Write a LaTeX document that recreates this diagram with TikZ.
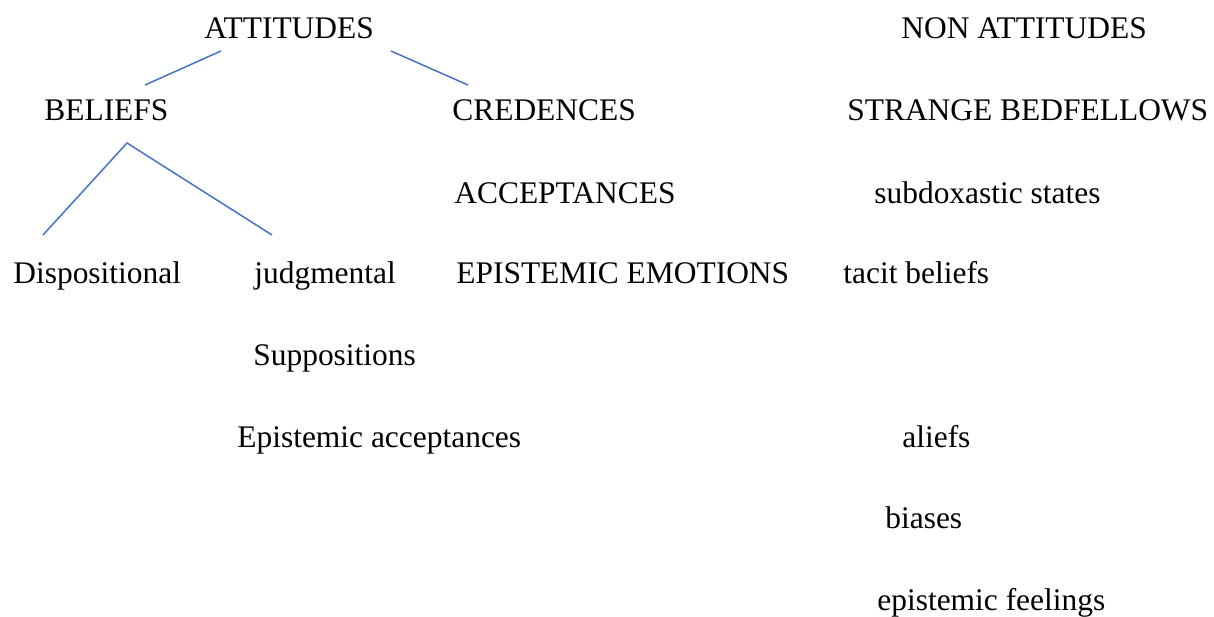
\documentclass[tikz,border=0pt]{standalone}
\usepackage{fontspec}
\setmainfont{Liberation Serif}
\definecolor{linkblue}{RGB}{68,114,196}

\begin{document}
\begin{tikzpicture}[
	x=0.02cm, y=-0.02cm,
	item/.style={anchor=base west, inner sep=0pt, font=\fontsize{17.9}{20}\selectfont},
	branch/.style={draw=linkblue, line width=0.85pt}
	]
	\useasboundingbox (0,0) rectangle (1214,616);

	% attitudes
	\node[item] (attitudes) at (204,38) {ATTITUDES};
	\node[item] (beliefs) at (44,120) {BELIEFS};
	\node[item] (credences) at (452,120) {CREDENCES};
	\node[item] (acceptances) at (454,203) {ACCEPTANCES};
	\node[item] (dispositional) at (13,283) {Dispositional};
	\node[item] (judgmental) at (254,283) {judgmental};
	\node[item] (emotions) at (456,283) {EPISTEMIC EMOTIONS};
	\node[item] (suppositions) at (253,365) {Suppositions};
	\node[item] (epacc) at (237,447) {Epistemic acceptances};

	% non attitudes
	\node[item] (nonatt) at (901,38) {NON ATTITUDES};
	\node[item] (bedfellows) at (847,120) {STRANGE BEDFELLOWS};
	\node[item] (subdox) at (874,203) {subdoxastic states};
	\node[item] (tacit) at (843,283) {tacit beliefs};
	\node[item] (aliefs) at (902,447) {aliefs};
	\node[item] (biases) at (885,528) {biases};
	\node[item] (feelings) at (877,610) {epistemic feelings};

	% tree
	\coordinate (attL) at (221,51);
	\coordinate (attR) at (391,51);
	\coordinate (belTop) at (145,85);
	\coordinate (creTop) at (468,85);
	\coordinate (apex) at (127,143);
	\coordinate (dispTop) at (43,235);
	\coordinate (judgTop) at (272,235);
	\draw[branch] (attL) -- (belTop);
	\draw[branch] (attR) -- (creTop);
	\draw[branch] (dispTop) -- (apex) -- (judgTop);
\end{tikzpicture}
\end{document}
